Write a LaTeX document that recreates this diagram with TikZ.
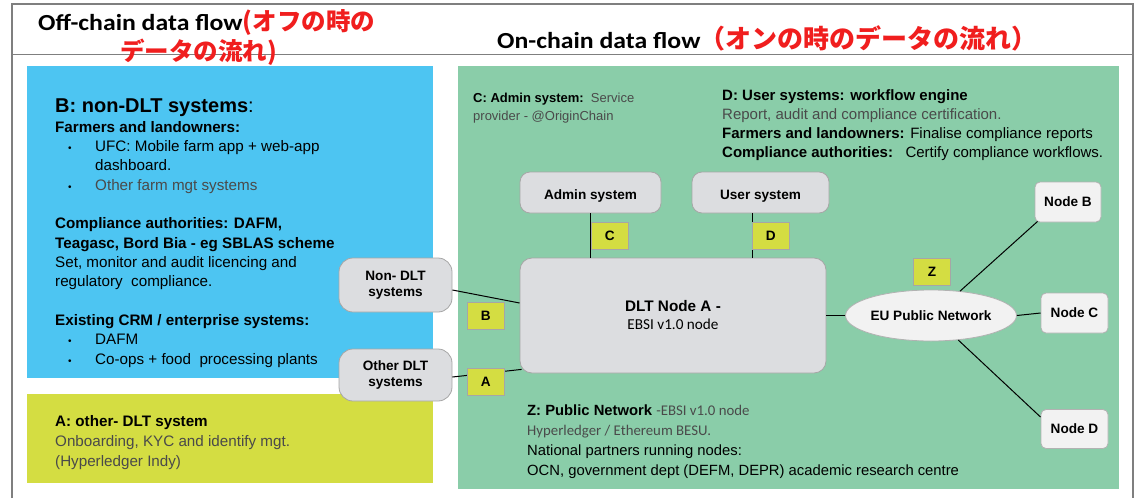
\documentclass[tikz,border=0pt]{standalone}
\usepackage{fontspec}
\setmainfont{Liberation Sans}
\newfontfamily\cjk{Noto Sans CJK JP}
\newfontfamily\calibri{Carlito}
\newfontfamily\calhead[FakeStretch=1.12]{Carlito}
\usetikzlibrary{shapes.geometric}
\definecolor{panelblue}{HTML}{4DC5F2}
\definecolor{panelgreen}{HTML}{8ACDA9}
\definecolor{panellime}{HTML}{D4DD42}
\definecolor{boxgray}{HTML}{DCDDE0}
\definecolor{nodegray}{HTML}{F2F2F2}
\definecolor{framegray}{HTML}{7F7F7F}
\definecolor{jred}{HTML}{F01E1E}
\definecolor{txtgray}{HTML}{4A4A4A}
\newcommand{\bul}{\makebox[40pt][l]{\hspace{13pt}{\fontsize{10}{10}\selectfont\textbullet}}}
\tikzset{
  sysbox/.style={draw=gray!70, fill=boxgray, rounded corners=10pt, line width=0.8pt, align=center, font=\fontsize{13.6}{15.5}\selectfont\bfseries},
  netbox/.style={draw=gray!60, fill=nodegray, rounded corners=5pt, line width=0.8pt, font=\fontsize{13.6}{15.5}\selectfont\bfseries},
  tag/.style={draw=gray!70, fill=panellime, line width=0.8pt, font=\fontsize{13.6}{15}\selectfont\bfseries, inner sep=0pt, minimum width=37pt, minimum height=27pt, anchor=north west},
  link/.style={line width=1pt, black},
  txt/.style={anchor=base west, inner sep=0pt, align=left},
  head/.style={txt, font=\calhead\fontsize{23}{26}\selectfont\bfseries},
  jhead/.style={txt, font=\cjk\fontsize{24.5}{28}\selectfont\bfseries, text=jred},
}
\begin{document}
\begin{tikzpicture}[x=1pt,y=-1pt]
\useasboundingbox (0,0) rectangle (1135,498);
% frame
\draw[framegray, line width=1.2pt] (12,498) -- (12,4) -- (1133,4) -- (1133,498);
\draw[framegray, line width=1pt] (12,54) -- (1133,54);
% panels
\fill[panelblue] (27,66) rectangle (433,378);
\fill[panellime] (27,394) rectangle (433,483);
\fill[panelgreen] (458,66) rectangle (1119,489);
% header
\node[head] (h1) at (38,30) {Off-chain data flow};
\node[jhead] (h1j) at (h1.base east) {(オフの時の};
\node[jhead] (h1k) at (120,60) {データの流れ)};
\node[head] (h2) at (497,48) {On-chain data flow};
\node[jhead, font=\cjk\fontsize{26}{28}\selectfont\bfseries] (h2j) at ([xshift=-1pt]h2.base east) {（オンの時のデータの流れ）};
% B panel text (anchor = baseline of last line)
\node[txt, font=\fontsize{20}{22}\selectfont] (btitle) at (55,112) {\textbf{B: non-DLT systems}:};
\node[txt, font=\fontsize{15.2}{19.33}\selectfont] (btext) at (55,364) {\textbf{Farmers and landowners:}\\
\bul UFC: Mobile farm app + web-app\\
\mbox{}\\
\bul\textcolor{txtgray}{Other farm mgt systems}\\[19.33pt]
\textbf{Compliance authorities: DAFM,}\\
\textbf{Teagasc, Bord Bia - eg SBLAS scheme}\\
Set, monitor and audit licencing and\\
regulatory\ \ compliance.\\[19.33pt]
\textbf{Existing CRM / enterprise systems:}\\
\bul DAFM\\
\bul Co-ops + food\ \ processing plants};
\node[txt, font=\fontsize{15.2}{19.33}\selectfont] (bdash) at (95,170.7) {dashboard.};
% A panel text
\node[txt, font=\fontsize{15.2}{20}\selectfont] (atext) at (55,466) {\textbf{A: other- DLT system}\\
\textcolor{txtgray}{Onboarding, KYC and identify mgt.}\\
\textcolor{txtgray}{(Hyperledger Indy)}};
% C and D texts
\node[txt, font=\fontsize{13}{18}\selectfont] (ctext) at (473,120) {\textbf{C: Admin system:}\ \ \textcolor{txtgray}{Service}\\
\textcolor{txtgray}{provider - @OriginChain}};
\node[txt, font=\fontsize{15}{18.7}\selectfont] (dtext) at (722,157) {\textbf{D: User systems: workflow engine}\\
\textcolor{txtgray}{Report, audit and compliance certification.}\\
\textbf{Farmers and landowners:} Finalise compliance reports\\
\textbf{Compliance authorities:}\ \ \ Certify compliance workflows.};
% Z text
\node[txt, font=\fontsize{14.8}{19.7}\selectfont] (ztext) at (527,475) {\textbf{Z: Public Network} {\calibri\textcolor{txtgray}{-EBSI v1.0 node}}\\
{\calibri\textcolor{txtgray}{Hyperledger / Ethereum BESU.}}\\
National partners running nodes:\\
OCN, government dept (DEFM, DEPR) academic research centre};
% nodes
\node[sysbox, minimum width=141pt, minimum height=41pt, text height=13pt, text depth=0pt] (admin) at (590.5,192.5) {Admin system};
\node[sysbox, minimum width=137pt, minimum height=41pt, text height=13pt, text depth=0pt] (user) at (760.5,192.5) {User system};
\node[sysbox, minimum width=306pt, minimum height=115pt, rounded corners=12pt, font=\fontsize{15.3}{18}\selectfont] (dlt) at (673,315.5) {\textbf{DLT Node A -}\\[0pt]{\calibri\mdseries\fontsize{15.2}{18}\selectfont EBSI v1.0 node}};
\node[sysbox, minimum width=113pt, minimum height=54pt, rounded corners=14pt] (nondlt) at (395.5,285) {Non- DLT\\systems};
\node[sysbox, minimum width=113pt, minimum height=52pt, rounded corners=14pt] (otherdlt) at (395.5,375) {Other DLT\\systems};
\node[ellipse, draw=gray!60, fill=nodegray, line width=0.8pt, minimum width=128pt, minimum height=51pt, inner sep=0pt, font=\fontsize{13.6}{15.5}\selectfont\bfseries] (eu) at (931,315.5) {EU Public Network};
\node[netbox, minimum width=66pt, minimum height=40pt] (nb) at (1068,202) {Node B};
\node[netbox, minimum width=67pt, minimum height=40pt] (nc) at (1074.5,313) {Node C};
\node[netbox, minimum width=67pt, minimum height=39pt] (nd) at (1074.5,429) {Node D};
% connectors
\draw[link] (admin.south -| 590,0) -- (dlt.north -| 590,0);
\draw[link] (user.south -| 752,0) -- (dlt.north -| 752,0);
\draw[link] (nondlt.east) ++(0,5) coordinate (n1) -- (dlt.west |- 0,303);
\draw[link] ([yshift=-2pt]otherdlt.east) -- ([shift={(2,-4)}]dlt.south west);
\draw[link] (dlt.east |- eu.west) -- (eu.west);
\draw[link] (eu.east) -- (nc.west);
\draw[link] (eu.40) -- ([shift={(3,-1)}]nb.south west);
\draw[link] (eu.-42) -- ([yshift=-8pt]nd.north west);
% tags
\node[tag] (tc) at (591,222) {C};
\node[tag] (td) at (752,222) {D};
\node[tag] (tb) at (467,302) {B};
\node[tag] (ta) at (467,368) {A};
\node[tag] (tz) at (913,258) {Z};
\end{tikzpicture}
\end{document}
